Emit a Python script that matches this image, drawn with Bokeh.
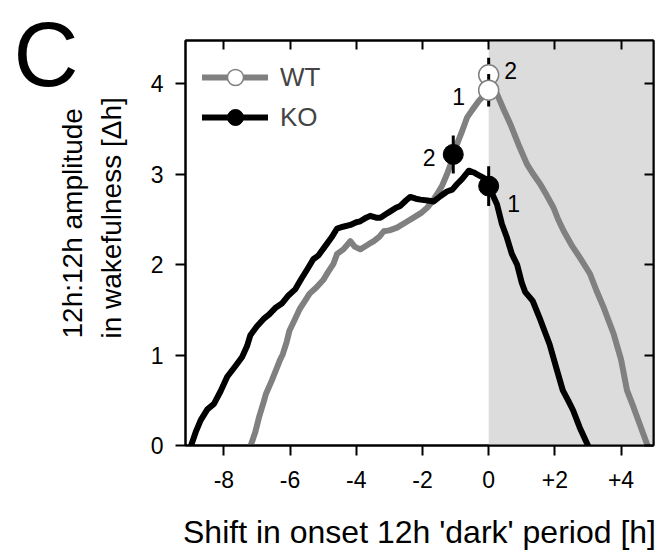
from bokeh.plotting import figure
from bokeh.models import (FixedTicker, LinearAxis, BoxAnnotation, Legend,
                          LegendItem, Range1d, Title)
from bokeh.embed import file_html
from bokeh.resources import INLINE
from bokeh.core.properties import value

# ---------------- data ----------------
ko_x = [-8.99, -8.85, -8.70, -8.50, -8.30, -8.10, -7.90, -7.65, -7.45, -7.30,
        -7.20, -7.00, -6.80, -6.63, -6.45, -6.25, -6.05, -5.84, -5.65, -5.48,
        -5.30, -5.15, -4.95, -4.75, -4.58, -4.40, -4.18, -4.00, -3.88, -3.70,
        -3.58, -3.40, -3.27, -3.10, -2.97, -2.80, -2.67, -2.50, -2.37, -2.20,
        -2.06, -1.85, -1.66, -1.45, -1.26, -1.10, -0.96, -0.80, -0.60, -0.45,
        -0.35, -0.15, 0.00, 0.15, 0.25, 0.40, 0.55, 0.70, 0.86, 1.00,
        1.10, 1.33, 1.55, 1.84, 2.05, 2.24, 2.40, 2.55, 2.75, 3.00]
ko_y = [0.00, 0.15, 0.28, 0.40, 0.46, 0.60, 0.76, 0.88, 0.98, 1.10,
        1.22, 1.32, 1.40, 1.45, 1.52, 1.57, 1.66, 1.73, 1.85, 1.95,
        2.06, 2.10, 2.20, 2.30, 2.40, 2.42, 2.44, 2.47, 2.48, 2.52,
        2.54, 2.52, 2.52, 2.56, 2.59, 2.63, 2.65, 2.71, 2.75, 2.73,
        2.72, 2.71, 2.70, 2.76, 2.81, 2.83, 2.89, 2.95, 3.04, 3.02,
        3.00, 2.96, 2.87, 2.75, 2.67, 2.45, 2.30, 2.12, 2.00, 1.80,
        1.70, 1.60, 1.40, 1.12, 0.85, 0.61, 0.50, 0.39, 0.20, 0.00]

wt_x = [-7.19, -7.05, -6.94, -6.80, -6.73, -6.55, -6.43, -6.30, -6.22, -6.10,
        -6.02, -5.85, -5.71, -5.55, -5.41, -5.20, -5.00, -4.85, -4.69, -4.58,
        -4.39, -4.18, -4.05, -3.88, -3.70, -3.57, -3.47, -3.30, -3.17, -3.00,
        -2.77, -2.50, -2.27, -2.05, -1.86, -1.70, -1.56, -1.40, -1.26, -1.10,
        -0.96, -0.80, -0.65, -0.50, -0.30, -0.15, 0.00, 0.25, 0.45, 0.65,
        0.90, 1.16, 1.35, 1.56, 1.75, 1.96, 2.10, 2.27, 2.50, 2.77,
        3.06, 3.25, 3.47, 3.78, 4.00, 4.18, 4.35, 4.49, 4.65, 4.80]
wt_y = [0.00, 0.15, 0.31, 0.48, 0.57, 0.72, 0.83, 0.95, 1.01, 1.15,
        1.27, 1.40, 1.51, 1.60, 1.68, 1.75, 1.83, 1.92, 2.01, 2.12,
        2.17, 2.26, 2.20, 2.17, 2.21, 2.24, 2.26, 2.31, 2.37, 2.38,
        2.41, 2.47, 2.52, 2.57, 2.63, 2.70, 2.78, 2.88, 3.00, 3.16,
        3.33, 3.48, 3.63, 3.71, 3.81, 3.87, 3.93, 3.89, 3.72, 3.56,
        3.33, 3.11, 3.00, 2.89, 2.77, 2.63, 2.50, 2.37, 2.22, 2.07,
        1.90, 1.72, 1.53, 1.23, 0.95, 0.61, 0.45, 0.31, 0.15, 0.00]

# highlighted points (index 0 -> "1", index 1 -> "2")
wt_pt_x = [0.0, 0.0]
wt_pt_y = [3.93, 4.10]
wt_pt_err = [0.18, 0.19]
ko_pt_x = [0.0, -1.07]
ko_pt_y = [2.87, 3.22]
ko_pt_err = [0.22, 0.21]
pt_labels = ["1", "2"]

dark_onset = 0.0
x_ticks = [-8, -6, -4, -2, 0, 2, 4]
x_tick_labels = ["-8", "-6", "-4", "-2", "0", "+2", "+4"]
y_ticks = [0, 1, 2, 3, 4]
y_label_lines = ["12h:12h amplitude", "in wakefulness [\u0394h]"]
x_label = "Shift in onset 12h 'dark' period [h]"
panel_letter = "C"

# ---------------- style ----------------
FONT = "Liberation Sans"
GREY = "#808080"
SHADE = "#dcdcdc"
X0, X1 = -9.16, 4.98
Y0, Y1 = 0.0, 4.48

p = figure(width=666, height=557, x_range=Range1d(X0, X1),
           y_range=Range1d(Y0, Y1), output_backend="svg",
           toolbar_location=None, min_border_left=185,
           min_border_right=13, min_border_top=40, min_border_bottom=112)
p.xgrid.grid_line_color = None
p.ygrid.grid_line_color = None
p.outline_line_color = "black"
p.outline_line_width = 2
p.background_fill_color = "white"
p.border_fill_color = "white"

xt = FixedTicker(ticks=x_ticks)
yt = FixedTicker(ticks=y_ticks)


def style_axis(ax, ticker, tin, tout, labels, standoff=0):
    ax.ticker = ticker
    ax.axis_line_width = 2
    ax.axis_line_color = "black"
    ax.major_tick_line_width = 2
    ax.major_tick_line_color = "black"
    ax.major_tick_in = tin
    ax.major_tick_out = tout
    ax.minor_tick_line_color = None
    ax.major_label_text_font = FONT
    ax.major_label_text_font_size = "23px"
    ax.major_label_text_color = "black"
    ax.major_label_standoff = standoff
    ax.major_label_overrides = {t: l for t, l in zip(ticker.ticks, labels)}


style_axis(p.xaxis[0], xt, 0, 10, x_tick_labels, 15)
style_axis(p.yaxis[0], yt, 0, 10, [str(t) for t in y_ticks], 12)
p.xaxis[0].axis_label = x_label
p.xaxis[0].axis_label_text_font = FONT
p.xaxis[0].axis_label_text_font_size = "32px"
p.xaxis[0].axis_label_text_font_style = "normal"
p.xaxis[0].axis_label_text_color = "black"
p.xaxis[0].axis_label_standoff = 23

top_ax = LinearAxis()
style_axis(top_ax, xt, 9, 0, ["" for _ in x_ticks])
p.add_layout(top_ax, "above")
right_ax = LinearAxis()
style_axis(right_ax, yt, 9, 0, ["" for _ in y_ticks])
p.add_layout(right_ax, "right")

# y-axis title: two left-aligned lines, as side-panel titles (not clipped)
for txt, so in ((y_label_lines[1], 42), (y_label_lines[0], -31)):
    p.add_layout(Title(text=txt, align="left", offset=107,
                       vertical_align="bottom", standoff=so,
                       text_font=FONT, text_font_size="28px",
                       text_font_style="normal", text_color="black"), "left")

# panel letter
p.add_layout(Title(text=panel_letter, align="left", offset=-172,
                   vertical_align="bottom", standoff=-129,
                   text_font=FONT, text_font_size="90px",
                   text_font_style="normal", text_color="black"), "above")

# dark period shading
p.add_layout(BoxAnnotation(left=dark_onset, fill_color=SHADE, fill_alpha=1.0,
                           line_color=None, level="underlay"))

# curves
wt_line = p.line(wt_x, wt_y, line_color=GREY, line_width=6,
                 line_join="round", line_cap="round")
ko_line = p.line(ko_x, ko_y, line_color="black", line_width=6,
                 line_join="round", line_cap="round")

# WT points: point 2 first, then point 1 on top
p.segment(x0=wt_pt_x[1:], y0=[y - e for y, e in zip(wt_pt_y[1:], wt_pt_err[1:])],
          x1=wt_pt_x[1:], y1=[y + e for y, e in zip(wt_pt_y[1:], wt_pt_err[1:])],
          line_color="black", line_width=3)
p.scatter(wt_pt_x[1:], wt_pt_y[1:], size=20, fill_color="white",
          line_color=GREY, line_width=1.5)
p.segment(x0=wt_pt_x[:1], y0=[y - e for y, e in zip(wt_pt_y[:1], wt_pt_err[:1])],
          x1=wt_pt_x[:1], y1=[y + e for y, e in zip(wt_pt_y[:1], wt_pt_err[:1])],
          line_color="black", line_width=3)
wt_mk = p.scatter(wt_pt_x[:1], wt_pt_y[:1], size=20, fill_color="white",
                  line_color=GREY, line_width=1.5)

# KO points
p.segment(x0=ko_pt_x, y0=[y - e for y, e in zip(ko_pt_y, ko_pt_err)],
          x1=ko_pt_x, y1=[y + e for y, e in zip(ko_pt_y, ko_pt_err)],
          line_color="black", line_width=3)
ko_mk = p.scatter(ko_pt_x, ko_pt_y, size=20, fill_color="black",
                  line_color="black", line_width=1)

# point number labels
wt_off_x = [-30, 22]
wt_off_y = [6, -4]
ko_off_x = [25, -24]
ko_off_y = [17, 3]
p.text(wt_pt_x, wt_pt_y, text=pt_labels, x_offset=wt_off_x, y_offset=wt_off_y,
       text_font=value(FONT), text_font_size="23px", text_align="center",
       text_baseline="middle", text_color="black")
p.text(ko_pt_x, ko_pt_y, text=pt_labels, x_offset=ko_off_x, y_offset=ko_off_y,
       text_font=value(FONT), text_font_size="23px", text_align="center",
       text_baseline="middle", text_color="black")

# legend
legend = Legend(items=[LegendItem(label="WT", renderers=[wt_line, wt_mk]),
                       LegendItem(label="KO", renderers=[ko_line, ko_mk])],
                location="top_left", margin=17, padding=0, spacing=0,
                glyph_height=40, glyph_width=66, label_height=40,
                label_standoff=12, label_text_font=FONT,
                label_text_font_size="26px", background_fill_alpha=0,
                border_line_color=None)
p.add_layout(legend)

open("out.html", "w").write(file_html(p, INLINE))
